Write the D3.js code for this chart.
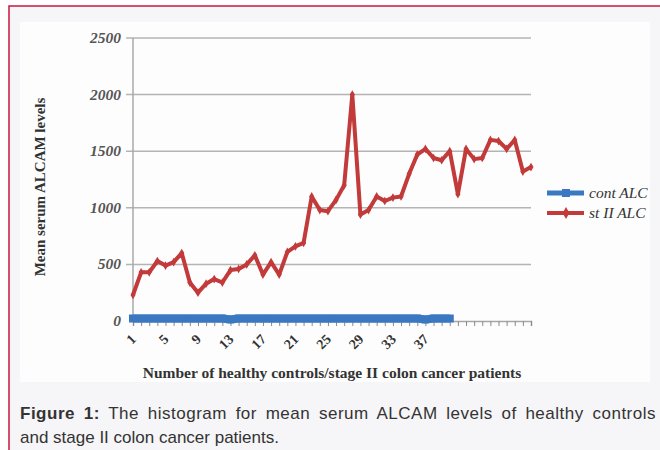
<!DOCTYPE html>
<html><head><meta charset="utf-8">
<script src="https://cdn.jsdelivr.net/npm/d3@7"></script>
<style>
html,body{margin:0;padding:0;background:#fff;}
svg{display:block;}
</style></head>
<body>
<svg id="c" width="660" height="450"></svg>
<script>
const categories = d3.range(1, 51).map(String);
const tickLabels = ["1","5","9","13","17","21","25","29","33","37"];
const contALC = [22,22,22,22,22,22,22,22,22,22,22,22,14,22,22,22,22,22,22,22,22,22,22,22,22,22,22,22,22,22,22,22,22,22,22,22,14,22,22,22];
const stIIALC = [230,430,430,530,490,520,600,340,250,330,370,340,450,460,500,580,410,520,410,610,660,690,1100,980,970,1070,1200,2000,940,980,1100,1060,1090,1100,1300,1470,1520,1440,1420,1500,1120,1520,1430,1440,1600,1590,1520,1600,1320,1360];
const yTicks = [0,500,1000,1500,2000,2500];
const seriesNames = ["cont ALC","st II ALC"];

(function(){
const svg = d3.select("#c");
// backgrounds
svg.append("rect").attr("x",9).attr("y",6).attr("width",660).attr("height",450).attr("fill","#f6f5f7").attr("stroke","#c8163f").attr("stroke-width",1.5);
svg.append("rect").attr("x",20).attr("y",22).attr("width",630).attr("height",360).attr("fill","#fdfdfd");

const pl=133, pr=531, pt=38, pb=321;
const x = d3.scalePoint().domain(categories).range([pl,pr]);
const y = d3.scaleLinear().domain([0,2500]).range([pb,pt]);

// gridlines
svg.append("g").selectAll("line").data(yTicks.filter(d=>d>0)).join("line")
  .attr("x1",pl-7).attr("x2",pr).attr("y1",d=>y(d)).attr("y2",d=>y(d))
  .attr("stroke","#b4b4b4").attr("stroke-width",1.5);
// y axis line
svg.append("line").attr("x1",pl).attr("x2",pl).attr("y1",pt).attr("y2",pb)
  .attr("stroke","#a8a8a8").attr("stroke-width",1.5);
// y tick labels
svg.append("g").selectAll("text").data(yTicks).join("text")
  .attr("x",pl-12).attr("y",d=>y(d)+5).attr("text-anchor","end")
  .attr("font-family","Liberation Serif").attr("font-style","italic").attr("font-weight","bold")
  .attr("font-size",15.5).attr("fill","#555").text(d=>d);

// x axis
const xAxis = d3.axisBottom(x).tickSize(5).tickFormat("");
const gx = svg.append("g").attr("transform",`translate(0,${pb})`).call(xAxis);
gx.select(".domain").attr("stroke","#a8a8a8").attr("stroke-width",1.5);
gx.selectAll(".tick line").attr("stroke","#8a8a8a").attr("stroke-width",1);
// x tick labels
svg.append("g").selectAll("text").data(tickLabels).join("text")
  .attr("transform",d=>`translate(${x(d)+4},${pb+19}) rotate(-45)`)
  .attr("text-anchor","end")
  .attr("font-family","Liberation Serif").attr("font-weight","bold")
  .attr("font-size",14).attr("fill","#333").text(d=>d);

// lines
const line = d3.line().x((d,i)=>x(categories[i])).y(d=>y(d));
svg.append("path").datum(stIIALC).attr("d",line).attr("fill","none")
  .attr("stroke","#c23a3a").attr("stroke-width",4).attr("stroke-linejoin","round");
svg.append("g").selectAll("path").data(stIIALC).join("path")
  .attr("d",d3.symbol(d3.symbolDiamond,22)())
  .attr("transform",(d,i)=>`translate(${x(categories[i])},${y(d)})`).attr("fill","#c23a3a");
svg.append("path").datum(contALC).attr("d",line).attr("fill","none")
  .attr("stroke","#3b78c2").attr("stroke-width",8);
svg.append("g").selectAll("rect").data(contALC).join("rect")
  .attr("x",(d,i)=>x(categories[i])-4).attr("y",d=>y(d)-4).attr("width",8).attr("height",8)
  .attr("fill","#3b78c2");

// legend
const lg = svg.append("g");
const ly = [193,213];
const lc = ["#3b78c2","#c23a3a"];
seriesNames.forEach((n,i)=>{
  lg.append("line").attr("x1",547).attr("x2",584).attr("y1",ly[i]).attr("y2",ly[i])
    .attr("stroke",lc[i]).attr("stroke-width",i?4:5);
  if(i===0) lg.append("rect").attr("x",562).attr("y",ly[i]-4).attr("width",8).attr("height",8).attr("fill",lc[i]);
  else lg.append("path").attr("d",d3.symbol(d3.symbolDiamond,40)()).attr("transform",`translate(566,${ly[i]})`).attr("fill",lc[i]);
  lg.append("text").attr("x",589).attr("y",ly[i]+5).attr("font-family","Liberation Serif")
    .attr("font-style","italic").attr("font-size",15.5).attr("fill","#333").text(n);
});

// axis titles
svg.append("text").attr("transform","translate(45,187) rotate(-90)").attr("text-anchor","middle")
  .attr("font-family","Liberation Serif").attr("font-weight","bold").attr("font-size",15).attr("fill","#333")
  .text("Mean serum ALCAM levels");
svg.append("text").attr("x",332).attr("y",378).attr("text-anchor","middle")
  .attr("font-family","Liberation Serif").attr("font-weight","bold").attr("font-size",15.5).attr("fill","#333")
  .text("Number of healthy controls/stage II colon cancer patients");

// caption
const cap = svg.append("text").attr("x",20).attr("y",419).attr("font-family","Liberation Sans").attr("font-size",17).attr("fill","#333");
cap.append("tspan").attr("font-weight","bold").text("Figure 1:");
cap.append("tspan").text(" The histogram for mean serum ALCAM levels of healthy controls");
const natural = cap.node().getComputedTextLength();
const extra = Math.max(0, 632 - natural);
const nChars = cap.text().length;
cap.attr("word-spacing", extra*0.5/10).attr("letter-spacing", extra*0.5/(nChars-1));
svg.append("text").attr("x",20).attr("y",443).attr("font-family","Liberation Sans").attr("font-size",17).attr("fill","#333")
  .text("and stage II colon cancer patients.");
})();
</script>
</body></html>
